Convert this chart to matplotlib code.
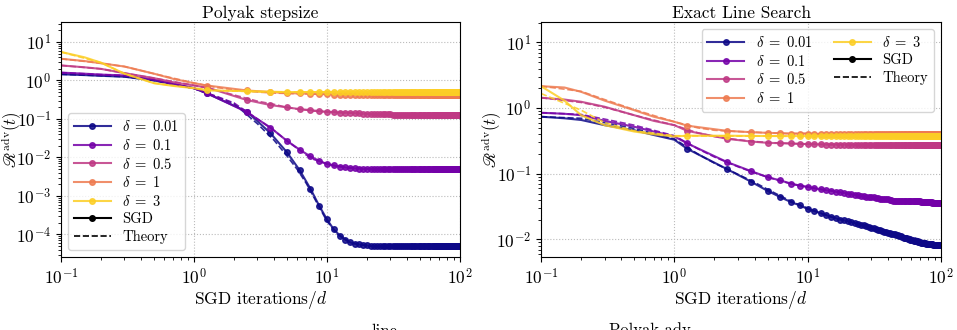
import numpy as np
import matplotlib.pyplot as plt

plt.rcParams['font.family'] = 'serif'
plt.rcParams['font.serif'] = ['cmr10', 'DejaVu Serif']
plt.rcParams['mathtext.fontset'] = 'cm'
plt.rcParams['axes.unicode_minus'] = False
plt.rcParams['axes.formatter.use_mathtext'] = True

deltas = ['0.01', '0.1', '0.5', '1', '3']
colors = [plt.cm.plasma(v) for v in [0.0, 0.225, 0.45, 0.675, 0.9]]

# SGD: line points before the first marker, then markers every 1.25
t_early = [0.1, 0.15, 0.2, 0.3, 0.5, 0.7, 1.0]
t_mark = list(1.25 * np.arange(1, 81))

# ---------- Polyak stepsize ----------
pol_early = [
    [1.45, 1.38, 1.32, 1.25, 1.0, 0.8, 0.63],
    [1.6, 1.5, 1.42, 1.35, 1.05, 0.82, 0.63],
    [2.46, 2.2, 2.0, 1.55, 1.15, 0.9, 0.74],
    [3.66, 3.2, 2.8, 2.3, 1.5, 1.1, 0.85],
    [5.5, 4.0, 2.9, 1.5, 0.85, 0.72, 0.63],
]
pol_mark = [
    [0.46, 0.156, 0.043, 0.0136, 0.0046, 0.00155, 5.5e-4, 2.45e-4, 1.35e-4, 9.4e-5,
     7.4e-5, 6.2e-5, 5.8e-5, 5.5e-5, 5.3e-5, 5.2e-5] + [5.0e-5] * 10 + [4.9e-5] * 54,
    [0.47, 0.15, 0.06, 0.027, 0.0158, 0.0107, 0.0081, 0.0068, 0.0062, 0.0058,
     0.0055, 0.0053, 0.0052, 0.0051] + [0.0050] * 66,
    [0.66, 0.31, 0.23, 0.2, 0.18, 0.17, 0.16, 0.153, 0.15, 0.147, 0.145, 0.143,
     0.141, 0.139, 0.137, 0.135] + [0.133] * 8 + [0.13] * 16 + [0.127] * 20 + [0.125] * 20,
    [0.74, 0.55, 0.5, 0.47, 0.46, 0.45, 0.44, 0.44, 0.43, 0.43] + [0.42] * 70,
    [0.55, 0.53, 0.51, 0.5, 0.5, 0.5, 0.5, 0.5] + [0.5] * 72,
]
t_th = [0.1, 0.2, 0.3, 0.5, 1.0, 1.5, 2.0, 3.0, 4.0, 5.0, 6.0, 7.0, 8.0, 10.0,
        12.0, 15.0, 20.0, 30.0, 50.0, 100.0]
pol_th = [
    [1.45, 1.33, 1.25, 1.0, 0.62, 0.37, 0.25, 0.075, 0.028, 0.011, 0.0048, 0.0021,
     9e-4, 2.2e-4, 1.0e-4, 6.0e-5, 5.1e-5, 4.9e-5, 4.9e-5, 4.9e-5],
    [1.6, 1.42, 1.35, 1.05, 0.62, 0.38, 0.26, 0.1, 0.05, 0.027, 0.017, 0.0115,
     0.0088, 0.0068, 0.0059, 0.0054, 0.0051, 0.005, 0.005, 0.005],
    [2.46, 2.0, 1.55, 1.15, 0.75, 0.55, 0.42, 0.29, 0.24, 0.2, 0.18, 0.17, 0.16,
     0.153, 0.148, 0.143, 0.137, 0.131, 0.127, 0.125],
    [3.66, 2.8, 2.3, 1.5, 0.86, 0.65, 0.57, 0.5, 0.47, 0.46, 0.45, 0.45, 0.44,
     0.44, 0.43, 0.43, 0.42, 0.42, 0.42, 0.42],
    [5.5, 2.9, 1.5, 0.85, 0.63, 0.55, 0.53, 0.51, 0.5, 0.5, 0.5, 0.5, 0.5, 0.5,
     0.5, 0.5, 0.5, 0.5, 0.5, 0.5],
]

# ---------- Exact line search ----------
els_early = [
    [0.74, 0.7, 0.66, 0.55, 0.46, 0.39, 0.33],
    [0.85, 0.82, 0.78, 0.64, 0.52, 0.44, 0.37],
    [1.44, 1.35, 1.25, 1.05, 0.78, 0.64, 0.55],
    [2.16, 2.06, 1.77, 1.3, 0.93, 0.74, 0.62],
    [2.16, 1.3, 0.78, 0.55, 0.44, 0.4, 0.37],
]
els_mark = [
    [0.24, 0.117, 0.076, 0.055, 0.044, 0.037, 0.033, 0.029, 0.027, 0.025, 0.0235,
     0.022, 0.021, 0.020, 0.0195, 0.019, 0.0183, 0.0177, 0.0172, 0.0167, 0.0163,
     0.0159, 0.0155, 0.0151, 0.0147, 0.0144, 0.0141, 0.0138, 0.0135, 0.0132,
     0.013, 0.0127, 0.0125, 0.0123, 0.0121, 0.0119, 0.0117, 0.0115, 0.0113,
     0.0111, 0.0109, 0.0107, 0.0105, 0.0104, 0.0102, 0.0101, 0.0099, 0.0098,
     0.0097, 0.0096, 0.0095, 0.0094, 0.0093, 0.0092, 0.0091, 0.009, 0.0089,
     0.0088, 0.0088, 0.0087, 0.0087, 0.0086, 0.0086, 0.0085, 0.0085, 0.0085,
     0.0084, 0.0084, 0.0084, 0.0083, 0.0083, 0.0083, 0.0083, 0.0082, 0.0082,
     0.0082, 0.0082, 0.0082, 0.0082, 0.0082],
    [0.29, 0.15, 0.11, 0.089, 0.079, 0.071, 0.066, 0.063, 0.06, 0.058, 0.056,
     0.055, 0.053, 0.052, 0.051, 0.05, 0.049, 0.048, 0.047, 0.046, 0.046, 0.045,
     0.045, 0.044, 0.044, 0.043, 0.043, 0.042, 0.042, 0.041, 0.041, 0.041, 0.04,
     0.04] + [0.039] * 10 + [0.038] * 12 + [0.037] * 12 + [0.036] * 12,
    [0.45, 0.34, 0.31, 0.296, 0.292, 0.29, 0.286, 0.283, 0.282, 0.28] + [0.278] * 20
    + [0.275] * 25 + [0.272] * 25,
    [0.54, 0.45, 0.43, 0.42, 0.415, 0.41, 0.41, 0.41] + [0.405] * 30 + [0.4] * 42,
    [0.38, 0.38, 0.377, 0.376] + [0.375] * 76,
]
els_th = [
    [0.74, 0.7, 0.6, 0.49, 0.34, 0.2, 0.145, 0.098, 0.074, 0.058, 0.048, 0.041,
     0.036, 0.03, 0.026, 0.022, 0.019, 0.0155, 0.012, 0.0082],
    [0.85, 0.8, 0.68, 0.55, 0.38, 0.24, 0.18, 0.128, 0.103, 0.089, 0.08, 0.073,
     0.068, 0.063, 0.059, 0.055, 0.05, 0.045, 0.04, 0.035],
    [1.44, 1.22, 1.03, 0.78, 0.55, 0.42, 0.37, 0.33, 0.31, 0.3, 0.295, 0.29, 0.287,
     0.283, 0.281, 0.279, 0.278, 0.276, 0.273, 0.272],
    [2.16, 1.8, 1.35, 0.95, 0.62, 0.5, 0.46, 0.44, 0.43, 0.42, 0.415, 0.41, 0.41,
     0.41, 0.405, 0.405, 0.405, 0.4, 0.4, 0.4],
    [1.67, 0.93, 0.6, 0.45, 0.38, 0.377, 0.376, 0.375, 0.375, 0.375, 0.375, 0.375,
     0.375, 0.375, 0.375, 0.375, 0.375, 0.375, 0.375, 0.375],
]


def draw(ax, early, mark, th, title):
    for i in range(len(deltas)):
        ts = t_early + t_mark
        ys = early[i] + mark[i]
        ax.plot(ts, ys, color=colors[i], lw=1.5, alpha=0.85, marker='o', ms=4,
                markevery=list(range(len(t_early), len(ts))),
                label=r'$\delta\;=\;%s$' % deltas[i])
        ax.plot(t_th, th[i], color=colors[i], lw=1.2, ls='--', alpha=0.85)
    ax.plot([], [], color='k', marker='o', ms=4, lw=1.5, label='SGD')
    ax.plot([], [], color='k', ls='--', lw=1.2, label='Theory')
    ax.set_xscale('log')
    ax.set_yscale('log')
    ax.set_xlim(0.1, 100)
    ax.grid(True, which='major', ls=':', color='#bbbbbb', lw=0.8)
    ax.set_title(title, fontsize=12.5, pad=3)
    ax.set_xlabel(r'SGD iterations$/d$', fontsize=12.5, labelpad=1)
    ax.set_ylabel(r'$\mathscr{R}^{\rm adv}(t)$', fontsize=12)
    ax.yaxis.set_label_coords(-0.093, 0.5)
    ax.tick_params(labelsize=12.5)


fig = plt.figure(figsize=(9.57, 3.3), dpi=100)
ax1 = fig.add_axes([61 / 957, 1 - 257 / 330, 399 / 957, 235 / 330])
ax2 = fig.add_axes([541 / 957, 1 - 257 / 330, 400 / 957, 235 / 330])

draw(ax1, pol_early, pol_mark, pol_th, 'Polyak stepsize')
ax1.set_ylim(2.6e-5, 33)
ax1.legend(loc='lower left', fontsize=10.5, framealpha=0.8, labelspacing=0.25,
           handlelength=2.5)

draw(ax2, els_early, els_mark, els_th, 'Exact Line Search')
ax2.set_ylim(5.4e-3, 20.5)
ax2.legend(loc='upper right', ncol=2, fontsize=10.5, framealpha=0.8,
           labelspacing=0.25, columnspacing=1.5, handlelength=2.5)

# titles of the next row, cut by the figure edge
fig.text(384 / 957, 1 - 324 / 330, 'line', ha='center', va='top', fontsize=12)
fig.text(650 / 957, 1 - 322 / 330, 'Polyak adv', ha='center', va='top', fontsize=12)

fig.savefig('out.png', dpi=100)
